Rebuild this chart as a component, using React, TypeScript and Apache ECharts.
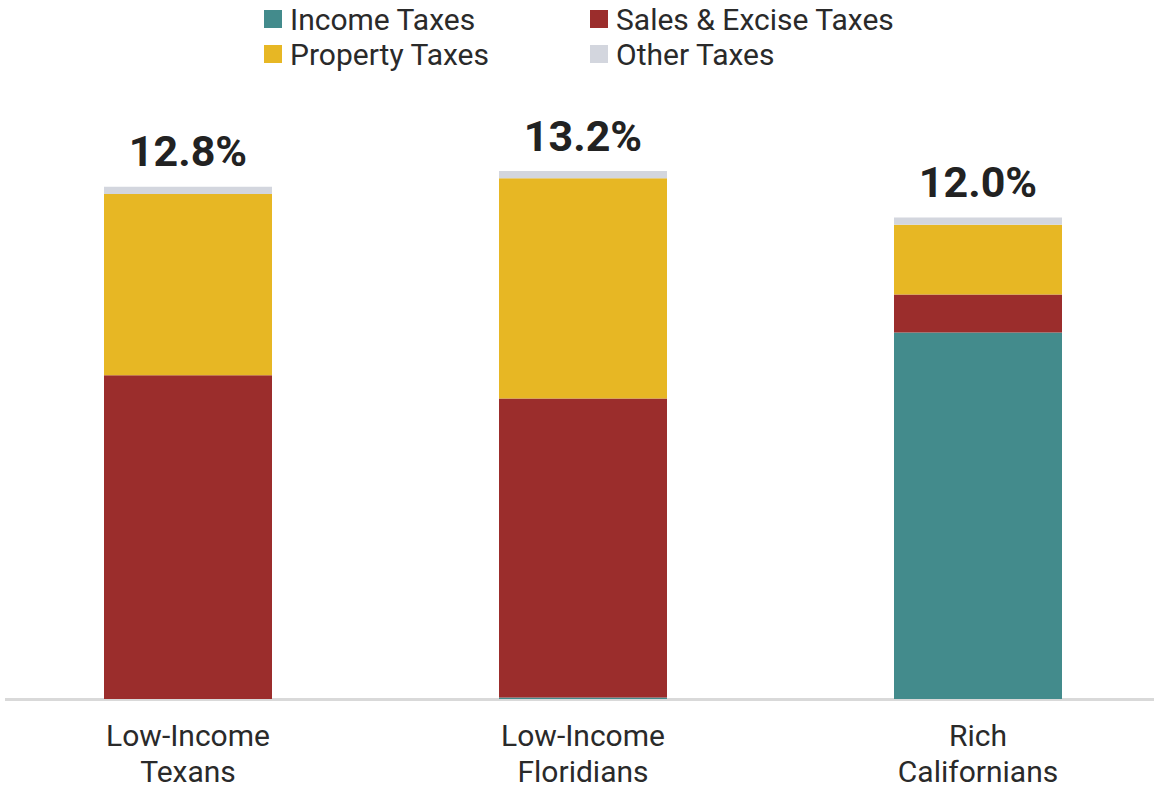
import React, { useEffect, useRef } from "react";
import * as echarts from "echarts";

const categories = ["Low-Income\nTexans", "Low-Income\nFloridians", "Rich\nCalifornians"];
const incomeTaxes = [0, 0.04, 9.16];
const salesExciseTaxes = [8.09, 7.47, 0.95];
const propertyTaxes = [4.53, 5.5, 1.74];
const otherTaxes = [0.18, 0.18, 0.18];
const seriesNames = ["Income Taxes", "Sales & Excise Taxes", "Property Taxes", "Other Taxes"];
const colors = ["#438B8C", "#9B2D2C", "#E7B724", "#D3D6DE"];

const totals = categories.map(
  (_, i) => incomeTaxes[i] + salesExciseTaxes[i] + propertyTaxes[i] + otherTaxes[i]
);

const OFFSET = 10; // chart div starts 10px left of the page

export default function App() {
  const ref = useRef<HTMLDivElement>(null);
  useEffect(() => {
    if (!ref.current) return;
    const chart = echarts.init(ref.current, null, { renderer: "svg" });
    const font = "Roboto";
    const legendText = {
      fontFamily: font,
      fontSize: 30,
      color: "#2a2a2a",
      lineHeight: 30,
      padding: [0, 0, 0, 3],
    };
    const legendBase = {
      orient: "vertical",
      top: 4,
      padding: 0,
      itemWidth: 18,
      itemHeight: 18,
      itemGap: 5,
      icon: "rect",
      textStyle: legendText,
      selectedMode: false,
    };
    const dataSets = [incomeTaxes, salesExciseTaxes, propertyTaxes, otherTaxes];
    chart.setOption({
      animation: false,
      textStyle: { fontFamily: font },
      legend: [
        { ...legendBase, left: 264 + OFFSET, data: ["Income Taxes", "Property Taxes"] },
        { ...legendBase, left: 590 + OFFSET, data: ["Sales & Excise Taxes", "Other Taxes"] },
      ],
      grid: { left: 0.5, right: 0.5, top: 138.7, bottom: 85.5, containLabel: false },
      xAxis: {
        type: "category",
        data: categories,
        axisLine: { show: true, lineStyle: { color: "#d9d9d9", width: 3 } },
        axisTick: { show: false },
        axisLabel: {
          fontFamily: font,
          fontSize: 30,
          lineHeight: 36,
          color: "#2a2a2a",
          margin: 18,
          interval: 0,
        },
      },
      yAxis: {
        type: "value",
        min: 0,
        max: 14,
        show: false,
        splitLine: { show: false },
      },
      series: seriesNames.map((name, si) => ({
        name,
        type: "bar",
        stack: "total",
        barWidth: 168,
        itemStyle: { color: colors[si] },
        data: dataSets[si],
        label:
          si === 3
            ? {
                show: true,
                position: "top",
                distance: 14,
                fontFamily: font,
                fontSize: 43,
                fontWeight: "bold",
                color: "#222222",
                formatter: (p: any) => totals[p.dataIndex].toFixed(1) + "%",
              }
            : { show: false },
      })),
      graphic: [
        {
          type: "rect",
          z: 100,
          shape: { x: 0, y: 680, width: 5 + OFFSET, height: 40 },
          style: { fill: "#ffffff" },
        },
      ],
    });
    return () => chart.dispose();
  }, []);
  return (
    <div
      ref={ref}
      style={{ position: "fixed", left: -OFFSET, top: 0, width: 1186, height: 789, background: "#fff" }}
    />
  );
}
